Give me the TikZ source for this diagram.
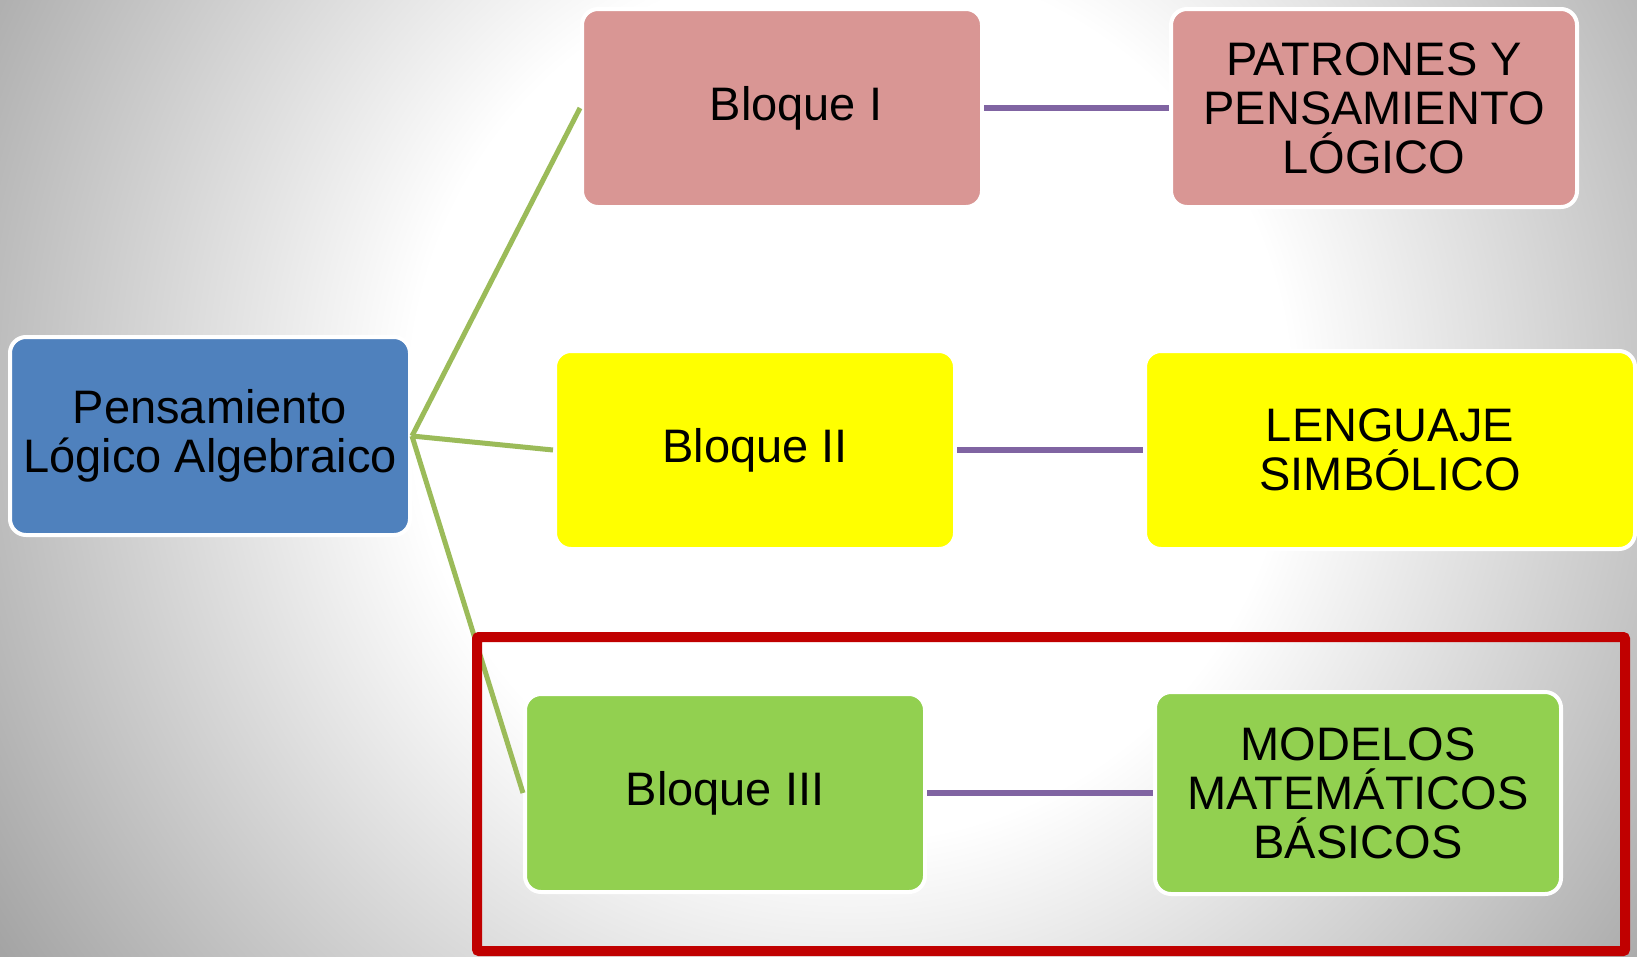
\documentclass[tikz,border=0pt]{standalone}
\usepackage{fontspec}
\setmainfont{Liberation Sans}
\usepackage{xcolor}
\usepackage{tikz}
\usetikzlibrary{positioning}
\definecolor{plablue}{RGB}{79,129,189}
\definecolor{blopink}{RGB}{217,150,148}
\definecolor{bloyellow}{RGB}{255,255,0}
\definecolor{blogreen}{RGB}{146,208,80}
\definecolor{linkgreen}{RGB}{155,187,89}
\definecolor{linkpurple}{RGB}{128,100,162}
\definecolor{framered}{RGB}{192,0,0}
\definecolor{bggray}{RGB}{150,150,150}
\pgfdeclareradialshading{bgshade}{\pgfpoint{0bp}{0bp}}{%
  color(0bp)=(white); color(10bp)=(white);
  color(25bp)=(bggray); color(50bp)=(bggray)}
\newcommand{\boxfont}{\fontsize{47}{49}\selectfont}

\begin{document}
\begin{tikzpicture}[
  x=1pt, y=-1pt,
  bloque/.style = {
    rectangle, draw=white, line width=4pt,
    rounded corners=16pt, minimum width=400pt,
    minimum height=198pt, inner sep=0pt, align=center, font=\boxfont
  },
  tree/.style = {linkgreen, line width=5pt},
  link/.style = {linkpurple, line width=6pt},
  frame/.style = {framered, line width=10pt, rounded corners=2pt}
]
  \useasboundingbox (0,0) rectangle (1637,956);
  \clip (0,0) rectangle (1637,956);
  % fondo
  \shade[shading=bgshade] (850,400) circle (1100);

  \node[bloque, fill=plablue] (pla) at (210,436) {Pensamiento\\Lógico Algebraico};

  \node[bloque, fill=blopink]   (b1) at (782,108) {\hspace*{28pt}Bloque I};
  \node[bloque, fill=bloyellow] (b2) at (755,450) {Bloque II};
  \node[bloque, fill=blogreen]  (b3) at (725,793) {Bloque III};

  \node[bloque, fill=blopink, minimum width=406pt, right=185pt of b1] (pat)
    {PATRONES Y\\PENSAMIENTO\\LÓGICO};
  \node[bloque, fill=bloyellow, minimum width=490pt, right=186pt of b2] (len)
    {LENGUAJE\\SIMBÓLICO};
  \node[bloque, fill=blogreen, minimum width=406pt, minimum height=202pt,
    right=226pt of b3] (mod)
    {MODELOS\\MATEMÁTICOS\\BÁSICOS};

  \draw[tree] (pla.east) -- (b1.west);
  \draw[tree] (pla.east) -- (b2.west);
  \draw[tree] (pla.east) -- (b3.west);

  \draw[link] (b1) -- (pat);
  \draw[link] (b2) -- (len);
  \draw[link] (b3) -- (mod);

  % recuadro rojo
  \draw[frame] (477,637) rectangle (1625,951);
\end{tikzpicture}
\end{document}
